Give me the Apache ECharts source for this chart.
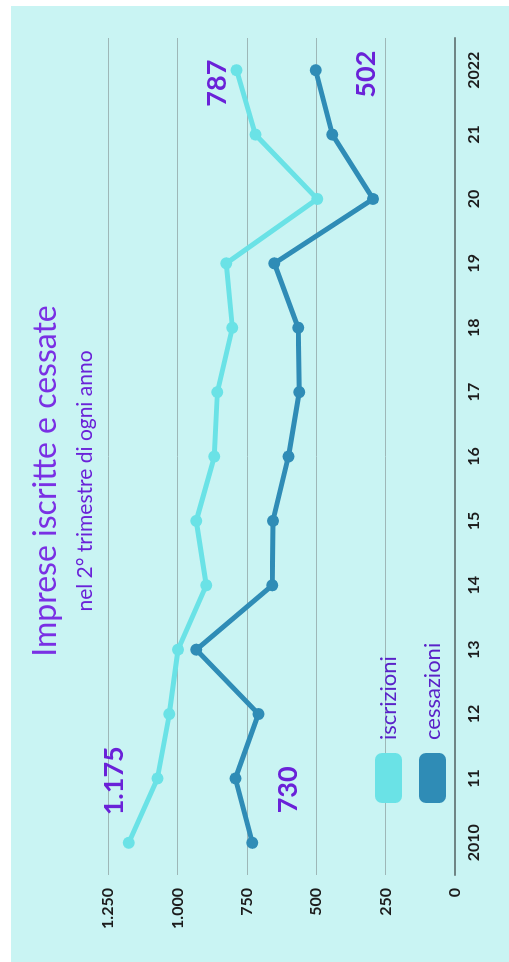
<!DOCTYPE html>
<html>
<head>
<meta charset="utf-8">
<script src="https://cdn.jsdelivr.net/npm/echarts@6/dist/echarts.min.js"></script>
<style>
  html, body { margin: 0; padding: 0; background: #fff; width: 509px; height: 962px; overflow: hidden; }
  .panel { position: absolute; left: 11px; top: 6px; width: 498px; height: 956px; background: #c9f4f3; }
  /* chart is drawn landscape, then turned a quarter to the left */
  #chart {
    position: absolute; left: 0; top: 0; width: 962px; height: 509px;
    transform-origin: 0 0; transform: translate(0, 962px) rotate(-90deg);
  }
</style>
</head>
<body>
<div class="panel"></div>
<div id="chart"></div>
<script>
const years = ["2010", "11", "12", "13", "14", "15", "16", "17", "18", "19", "20", "21", "2022"];
const iscrizioni = [1175, 1072, 1029, 998, 896, 932, 867, 856, 802, 824, 496, 719, 787];
const cessazioni = [730, 791, 708, 932, 658, 656, 600, 561, 565, 651, 295, 442, 502];
const valueTicks = [0, 250, 500, 750, 1000, 1250];

const lightColor = "#6ae2e6";
const darkColor = "#2f8cb6";
const purple = "#6a22d8";

function itFormat(v) {
  return String(v).replace(/\B(?=(\d{3})+(?!\d))/g, ".");
}

// first and last point of each line carry a big value label
function withEndLabels(arr, offFirst, offLast) {
  return arr.map(function (v, i) {
    if (i === 0 || i === arr.length - 1) {
      return {
        value: v,
        label: {
          show: true,
          position: "inside",
          offset: i === 0 ? offFirst : offLast,
          formatter: function (p) { return itFormat(p.value); },
          color: purple,
          fontSize: 27,
          fontWeight: "bold",
          fontFamily: "Lato"
        }
      };
    }
    return v;
  });
}

let chart = echarts.init(document.getElementById("chart"));
chart.setOption({
  animation: false,
  title: {
    text: "Imprese iscritte e cessate",
    subtext: "nel 2° trimestre di ogni anno",
    left: "center",
    top: 25,
    itemGap: 13,
    textStyle: { color: "#7a30e4", fontSize: 32, fontWeight: "normal", fontFamily: "Lato" },
    subtextStyle: { color: "#6a22d8", fontSize: 21, fontFamily: "Lato" }
  },
  legend: {
    orient: "vertical",
    left: 154,
    top: 370,
    itemWidth: 50,
    itemHeight: 27,
    itemGap: 17,
    icon: "roundRect",
    data: ["iscrizioni", "cessazioni"],
    textStyle: { color: "#5a22c8", fontSize: 22, fontFamily: "Lato", padding: [0, 0, 0, 8] }
  },
  grid: { left: 87, right: 38, top: 108, bottom: 54 },
  xAxis: {
    type: "category",
    data: years,
    boundaryGap: true,
    axisTick: { show: false },
    axisLine: { lineStyle: { color: "#6f8585", width: 2 } },
    axisLabel: { margin: 11, color: "#1c1c1c", fontSize: 16, fontWeight: "bold", fontFamily: "Lato" }
  },
  yAxis: {
    type: "value",
    min: valueTicks[0],
    max: valueTicks[valueTicks.length - 1],
    interval: 250,
    axisLine: { show: false },
    axisTick: { show: false },
    splitLine: { lineStyle: { color: "#9db7b7", width: 1 } },
    axisLabel: {
      margin: 13, color: "#1c1c1c", fontSize: 16, fontWeight: "bold", fontFamily: "Lato",
      formatter: itFormat
    }
  },
  series: [
    {
      name: "cessazioni",
      type: "line",
      data: withEndLabels(cessazioni, [53, 36], [-4, 51]),
      symbol: "circle",
      symbolSize: 12,
      color: darkColor,
      lineStyle: { width: 5, color: darkColor }
    },
    {
      name: "iscrizioni",
      type: "line",
      data: withEndLabels(iscrizioni, [62, -15], [-13, -19]),
      symbol: "circle",
      symbolSize: 12,
      color: lightColor,
      lineStyle: { width: 5, color: lightColor }
    }
  ]
});
</script>
</body>
</html>
